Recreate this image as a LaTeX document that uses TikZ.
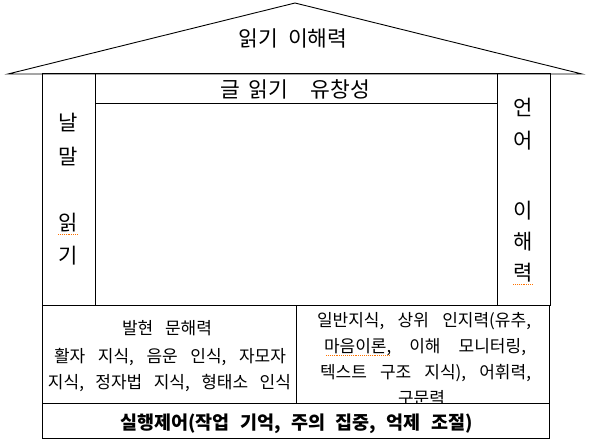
\documentclass[tikz,border=0pt]{standalone}
\usepackage{fontspec}
\setmainfont{Noto Sans CJK KR}
\newcommand{\gp}{\hfill}
\begin{document}
\begin{tikzpicture}[x=1pt,y=-1pt,
  frame/.style={draw=black,line width=1pt},
  body/.style={anchor=base,inner sep=0pt,font=\fontsize{17}{20}\selectfont},
  head/.style={anchor=base,inner sep=0pt,font=\fontsize{21.5}{24}\selectfont},
  vert/.style={anchor=base,inner sep=0pt,font=\fontsize{21}{24}\selectfont},
  foot/.style={anchor=base,inner sep=0pt,font=\fontsize{18.5}{22}\selectfont\bfseries},
  squig/.style={draw=orange!90!red,densely dotted,line width=0.9pt}]
\useasboundingbox (0,0) rectangle (590,441);
% roof
\draw[line width=0.9pt,line join=miter] (8,74) -- (295,3) -- (582,74) -- cycle;
\node[head] (roof) at (293,46.2) {\makebox[109pt][s]{읽기\gp 이해력}};
% columns and center
\draw[frame] (42,74) rectangle (95,306);
\draw[frame] (95,74) rectangle (497,306);
\draw[frame] (95,104) -- (497,104);
\draw[frame] (497,74) rectangle (550,306);
\node[head] (flu) at (295.5,97.2) {글\hspace{8pt}읽기\hspace{23pt}유창성};
% left column
\node[vert] (lc1) at (68.5,131) {날};
\node[vert] (lc2) at (68.5,165) {말};
\node[vert] (lc3) at (68.5,231) {읽};
\node[vert] (lc4) at (68.5,264) {기};
% right column
\node[vert] (rc1) at (523.5,115.5) {언};
\node[vert] (rc2) at (523.5,149) {어};
\node[vert] (rc3) at (523.5,219) {이};
\node[vert] (rc4) at (523.5,250) {해};
\node[vert] (rc5) at (523.5,280) {력};
% middle row
\draw[frame] (42,306) rectangle (296,403);
\draw[frame] (296,306) rectangle (549,403);
\node[body] (l1) at (167,334.5) {\makebox[90pt][s]{발현\gp 문해력}};
\node[body] (l2) at (170,362.5) {\makebox[232pt][s]{활자\gp 지식,\gp 음운\gp 인식,\gp 자모자}};
\node[body] (l3) at (169.5,388.5) {\makebox[243pt][s]{지식,\gp 정자법\gp 지식,\gp 형태소\gp 인식}};
\node[body] (r1) at (424,326.5) {\makebox[214pt][s]{일반지식,\gp 상위\gp 인지력(유추,}};
\node[body] (r2) at (425,352.5) {\makebox[202pt][s]{마음이론,\gp 이해\gp 모니터링,}};
\node[body] (r3) at (425.5,378.5) {\makebox[211pt][s]{텍스트\gp 구조\gp 지식),\gp 어휘력,}};
\node[body] (r4) at (421.5,404.5) {구문력};
% bottom row (covers overflowing text)
\draw[frame,fill=white] (42,403) rectangle (549,438);
\node[foot] (exe) at (296.5,429) {\makebox[352pt][s]{실행제어(작업\gp 기억,\gp 주의\gp 집중,\gp 억제\gp 조절)}};
% spell-check marks
\draw[squig] (326,355) -- (390,355);
\draw[squig] (58,234) -- (78,234);
\draw[squig] (513,284) -- (533,284);
\end{tikzpicture}
\end{document}
